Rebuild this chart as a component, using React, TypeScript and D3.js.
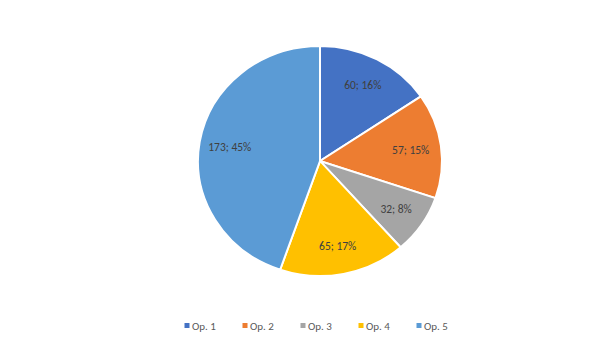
import React from "react";
import * as d3 from "d3";

const categories = ["Op. 1", "Op. 2", "Op. 3", "Op. 4", "Op. 5"];
const values = [60, 57, 32, 65, 173];
const percentLabels = ["16%", "15%", "8%", "17%", "45%"];
const colors = ["#4472C4", "#ED7D31", "#A5A5A5", "#FFC000", "#5B9BD5"];

const W = 614;
const H = 344;
const cx = 320;
const cy = 161;
const R = 122;
const sy = 115 / 122;

export default function App() {
  const pie = d3.pie<number>().sort(null).value((d) => d)(values);
  const arc = d3.arc<d3.PieArcDatum<number>>().innerRadius(0).outerRadius(R);
  const labelArc = d3.arc<d3.PieArcDatum<number>>().innerRadius(R * 0.75).outerRadius(R * 0.75);
  const legendX = d3.scaleLinear().domain([0, categories.length - 1]).range([187, 419]);
  return (
    <div style={{ position: "absolute", left: 0, top: 0 }}>
      <svg width={W} height={H} style={{ display: "block", fontFamily: "Calibri, Carlito, 'Liberation Sans', sans-serif" }}>
        <rect width={W} height={H} fill="#fff" />
        <g transform={`translate(${cx},${cy}) scale(1,${sy})`}>
          {pie.map((p, i) => (
            <path key={i} d={arc(p) || ""} fill={colors[i]} stroke="#fff" strokeWidth={2} />
          ))}
        </g>
        <g transform={`translate(${cx},${cy})`}>
          {pie.map((p, i) => {
            const [x, y] = labelArc.centroid(p);
            return (
              <text key={i} x={x} y={y * sy} dy="0.35em" textAnchor="middle" fontSize={11.5} fill="#404040">
                {`${values[i]}; ${percentLabels[i]}`}
              </text>
            );
          })}
        </g>
        {categories.map((c, i) => (
          <g key={c} transform={`translate(${legendX(i)},326)`}>
            <rect x={-2.5} y={-3} width={5} height={5} fill={colors[i]} />
            <text x={5} y={0} dy="0.35em" fontSize={11} fill="#595959">{c}</text>
          </g>
        ))}
      </svg>
    </div>
  );
}
